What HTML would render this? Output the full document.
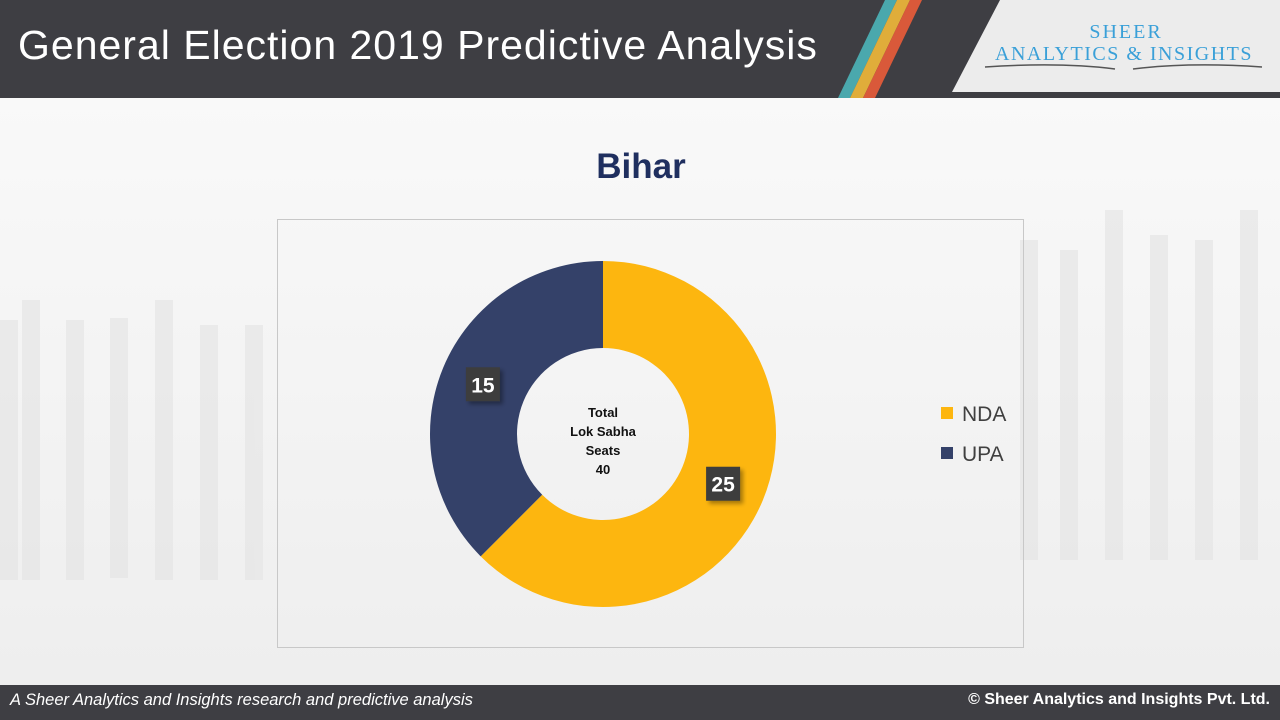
<!DOCTYPE html>
<html><head><meta charset="utf-8">
<style>
body{margin:0;width:1280px;height:720px;overflow:hidden;background:#f3f3f3;font-family:"Liberation Sans",sans-serif;position:relative}
.hdr{position:absolute;left:0;top:0;width:1280px;height:98px;background:#3e3e43}
.title{position:absolute;left:18px;top:22px;font-size:41px;color:#fff;white-space:nowrap;letter-spacing:1px}
.ftr{position:absolute;left:0;top:685px;width:1280px;height:35px;background:#3e3e43;color:#fff}
</style></head><body>
<div class="hdr"></div>
<div class="title">General Election 2019 Predictive Analysis</div>
<svg width="1280" height="720" style="position:absolute;left:0;top:0">
  <defs>
    <linearGradient id="bg" x1="0" y1="0" x2="0" y2="1"><stop offset="0" stop-color="#f9f9f9"/><stop offset="1" stop-color="#eeeeee"/></linearGradient>
    <filter id="sh" x="-20%" y="-20%" width="140%" height="140%"><feDropShadow dx="3" dy="3" stdDeviation="2" flood-color="#000" flood-opacity="0.35"/></filter>
  </defs>
  <rect x="0" y="98" width="1280" height="587" fill="url(#bg)"/>
  <g fill="#e6e6e6" opacity="0.7">
    <rect x="0" y="320" width="18" height="260"/><rect x="22" y="300" width="18" height="280"/><rect x="66" y="320" width="18" height="260"/><rect x="110" y="318" width="18" height="260"/><rect x="155" y="300" width="18" height="280"/><rect x="200" y="325" width="18" height="255"/><rect x="245" y="325" width="18" height="255"/>
    <rect x="1020" y="240" width="18" height="320"/><rect x="1060" y="250" width="18" height="310"/><rect x="1105" y="210" width="18" height="350"/><rect x="1150" y="235" width="18" height="325"/><rect x="1195" y="240" width="18" height="320"/><rect x="1240" y="210" width="18" height="350"/>
  </g>
  <polygon points="1000,0 1280,0 1280,92 952,92" fill="#ececec"/>
  <polygon points="885,0 897,0 850,98 838,98" fill="#4aa8ad"/>
  <polygon points="897,0 910,0 863,98 850,98" fill="#e0ad3a"/>
  <polygon points="910,0 922,0 875,98 863,98" fill="#d9593a"/>
  <text x="1126" y="38" text-anchor="middle" font-family="Liberation Serif" font-size="20" fill="#3aa0d8" letter-spacing="2">SHEER</text>
  <text x="1124" y="60" text-anchor="middle" font-family="Liberation Serif" font-size="20" fill="#3aa0d8" letter-spacing="1.5">ANALYTICS &amp; INSIGHTS</text>
  <path d="M985 67 Q1060 62 1115 69" stroke="#555" stroke-width="1.5" fill="none"/>
  <path d="M1133 69 Q1190 62 1262 67" stroke="#555" stroke-width="1.5" fill="none"/>
  <rect x="277.5" y="219.5" width="746" height="428" fill="none" stroke="#c8c8c8"/>
  <text x="641" y="178" text-anchor="middle" font-size="35" font-weight="bold" fill="#1f2f5f">Bihar</text>
  <g id="donut"></g>
</svg>
<div class="ftr">
  <span style="position:absolute;left:10px;top:6px;font-style:italic;font-size:16.5px">A Sheer Analytics and Insights research and predictive analysis</span>
  <span style="position:absolute;right:10px;top:6px;font-weight:bold;font-size:16px">© Sheer Analytics and Insights Pvt. Ltd.</span>
</div>
<script>
const categories=["NDA","UPA"];
const seats=[25,15];
const colors=["#fdb60f","#344169"];
const cx=603,cy=434,R=173,r=86;
const g=document.getElementById('donut');
const NS='http://www.w3.org/2000/svg';
const total=seats.reduce((a,b)=>a+b,0);
let a0=0;
function pt(rad,a){return [cx+rad*Math.sin(a),cy-rad*Math.cos(a)];}
seats.forEach((v,i)=>{
  const a1=a0+v/total*2*Math.PI;
  const large=(a1-a0)>Math.PI?1:0;
  const [x0,y0]=pt(R,a0),[x1,y1]=pt(R,a1),[x2,y2]=pt(r,a1),[x3,y3]=pt(r,a0);
  const p=document.createElementNS(NS,'path');
  p.setAttribute('d',`M${x0} ${y0}A${R} ${R} 0 ${large} 1 ${x1} ${y1}L${x2} ${y2}A${r} ${r} 0 ${large} 0 ${x3} ${y3}Z`);
  p.setAttribute('fill',colors[i]);
  
  
  g.appendChild(p);
  a0=a1;
});
a0=0;
seats.forEach((v,i)=>{
  const a1=a0+v/total*2*Math.PI;
  const am=(a0+a1)/2;
  const [lx,ly]=pt(130,am);
  const b=document.createElementNS(NS,'rect');
  b.setAttribute('x',lx-17);b.setAttribute('y',ly-17);b.setAttribute('width',34);b.setAttribute('height',34);b.setAttribute('fill','#3d3d3d');b.setAttribute('filter','url(#sh)');
  
  
  g.appendChild(b);
  const t=document.createElementNS(NS,'text');
  t.setAttribute('x',lx);t.setAttribute('y',ly+8);t.setAttribute('text-anchor','middle');t.setAttribute('font-size','21');t.setAttribute('font-weight','bold');t.setAttribute('fill','#fff');
  t.textContent=v;
  
  
  g.appendChild(t);
  const ly2=413+i*40;
  const s=document.createElementNS(NS,'rect');
  s.setAttribute('x',941);s.setAttribute('y',ly2-6);s.setAttribute('width',12);s.setAttribute('height',12);s.setAttribute('fill',colors[i]);
  
  
  g.appendChild(s);
  const lt=document.createElementNS(NS,'text');
  lt.setAttribute('x',962);lt.setAttribute('y',ly2+8);lt.setAttribute('font-size','21');lt.setAttribute('fill','#404040');
  lt.textContent=categories[i];
  
  
  g.appendChild(lt);
  a0=a1;
});
["Total","Lok Sabha","Seats",String(total)].forEach((s,i)=>{
  const t=document.createElementNS(NS,'text');
  t.setAttribute('x',cx);t.setAttribute('y',417+i*19);t.setAttribute('text-anchor','middle');t.setAttribute('font-size','13');t.setAttribute('font-weight','bold');t.setAttribute('fill','#111');
  t.textContent=s;
  
  
  g.appendChild(t);
});
</script>
</body></html>
